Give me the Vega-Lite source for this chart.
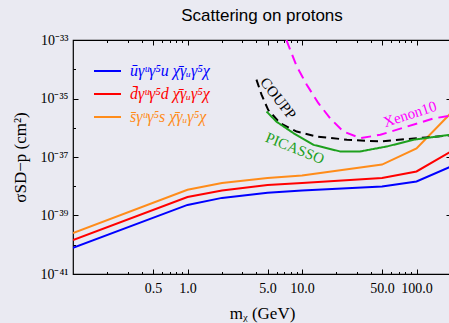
{
  "$schema": "https://vega.github.io/schema/vega-lite/v6.json",
  "width": 378,
  "height": 234,
  "autosize": {"type": "none"},
  "padding": {"left": 73, "top": 40, "right": 0, "bottom": 49},
  "background": "#EAEAF2",
  "config": {
    "view": {"stroke": "black", "strokeWidth": 1.2, "fill": "#EAEAF2"},
    "axis": {
      "grid": false, "domain": false, "tickColor": "black", "tickWidth": 1,
      "labelFont": "Liberation Serif", "labelFontSize": 14, "labelColor": "black",
      "titleFont": "Liberation Serif", "titleFontSize": 17, "titleFontWeight": "normal", "titleColor": "black",
      "labelOverlap": false, "labelFlush": false, "labelBound": false
    }
  },
  "title": {"text": "Scattering on protons", "font": "Liberation Sans", "fontSize": 17, "fontWeight": "normal", "color": "black", "offset": 8},
  "datasets": {
    "theory": [
      {"m": 0.1, "sigma": 7.9e-41, "op": "u"},
      {"m": 1, "sigma": 2.3e-39, "op": "u"},
      {"m": 2, "sigma": 4.0e-39, "op": "u"},
      {"m": 5, "sigma": 6.0e-39, "op": "u"},
      {"m": 10, "sigma": 7.1e-39, "op": "u"},
      {"m": 50, "sigma": 9.8e-39, "op": "u"},
      {"m": 100, "sigma": 1.45e-38, "op": "u"},
      {"m": 200, "sigma": 4.7e-38, "op": "u"},
      {"m": 0.1, "sigma": 1.45e-40, "op": "d"},
      {"m": 1, "sigma": 4.3e-39, "op": "d"},
      {"m": 2, "sigma": 7.1e-39, "op": "d"},
      {"m": 5, "sigma": 1.1e-38, "op": "d"},
      {"m": 10, "sigma": 1.3e-38, "op": "d"},
      {"m": 50, "sigma": 1.9e-38, "op": "d"},
      {"m": 100, "sigma": 3.2e-38, "op": "d"},
      {"m": 200, "sigma": 1.55e-37, "op": "d"},
      {"m": 0.1, "sigma": 2.5e-40, "op": "s"},
      {"m": 1, "sigma": 7.6e-39, "op": "s"},
      {"m": 2, "sigma": 1.3e-38, "op": "s"},
      {"m": 5, "sigma": 1.9e-38, "op": "s"},
      {"m": 10, "sigma": 2.35e-38, "op": "s"},
      {"m": 50, "sigma": 5.5e-38, "op": "s"},
      {"m": 100, "sigma": 1.95e-37, "op": "s"},
      {"m": 200, "sigma": 3.2e-36, "op": "s"}
    ],
    "exp": [
      {"m": 4.0, "sigma": 4.4e-35, "exp": "COUPP"},
      {"m": 4.43, "sigma": 1.35e-35, "exp": "COUPP"},
      {"m": 5.06, "sigma": 4.1e-36, "exp": "COUPP"},
      {"m": 6.41, "sigma": 1.45e-36, "exp": "COUPP"},
      {"m": 8.98, "sigma": 7.4e-37, "exp": "COUPP"},
      {"m": 13.5, "sigma": 5.0e-37, "exp": "COUPP"},
      {"m": 24.7, "sigma": 3.9e-37, "exp": "COUPP"},
      {"m": 48.3, "sigma": 3.4e-37, "exp": "COUPP"},
      {"m": 94.7, "sigma": 4.3e-37, "exp": "COUPP"},
      {"m": 200, "sigma": 5.5e-37, "exp": "COUPP"},
      {"m": 7.3, "sigma": 1.0e-33, "exp": "Xenon10"},
      {"m": 8.98, "sigma": 1.26e-34, "exp": "Xenon10"},
      {"m": 11.0, "sigma": 2.95e-35, "exp": "Xenon10"},
      {"m": 13.9, "sigma": 6.9e-36, "exp": "Xenon10"},
      {"m": 17.6, "sigma": 2.1e-36, "exp": "Xenon10"},
      {"m": 23.0, "sigma": 7.4e-37, "exp": "Xenon10"},
      {"m": 32.3, "sigma": 4.4e-37, "exp": "Xenon10"},
      {"m": 48.3, "sigma": 5.75e-37, "exp": "Xenon10"},
      {"m": 82.8, "sigma": 1.1e-36, "exp": "Xenon10"},
      {"m": 141.9, "sigma": 2.1e-36, "exp": "Xenon10"},
      {"m": 200, "sigma": 2.6e-36, "exp": "Xenon10"},
      {"m": 4.9, "sigma": 3.6e-36, "exp": "PICASSO"},
      {"m": 6.0, "sigma": 1.6e-36, "exp": "PICASSO"},
      {"m": 8.39, "sigma": 6.6e-37, "exp": "PICASSO"},
      {"m": 12.6, "sigma": 2.6e-37, "exp": "PICASSO"},
      {"m": 21.5, "sigma": 1.55e-37, "exp": "PICASSO"},
      {"m": 32.3, "sigma": 1.55e-37, "exp": "PICASSO"},
      {"m": 55.3, "sigma": 2.3e-37, "exp": "PICASSO"},
      {"m": 94.7, "sigma": 3.9e-37, "exp": "PICASSO"},
      {"m": 200, "sigma": 5.8e-37, "exp": "PICASSO"}
    ],
    "labels": [
      {"m": 6.2, "sigma": 1.02e-35, "label": "COUPP"},
      {"m": 87.4, "sigma": 2.95e-36, "label": "Xenon10"},
      {"m": 8.68, "sigma": 2.0e-37, "label": "PICASSO"}
    ]
  },
  "layer": [
    {
      "data": {"name": "theory"},
      "mark": {"type": "line", "strokeWidth": 2, "clip": true},
      "encoding": {
        "x": {
          "field": "m", "type": "quantitative",
          "scale": {"type": "log", "domain": [0.1, 200], "nice": false},
          "axis": {
            "orient": "bottom",
            "title": "mᵪ (GeV)",
            "titlePadding": 8,
            "values": [0.2, 0.3, 0.4, 0.5, 0.6, 0.7, 0.8, 0.9, 1, 2, 3, 4, 5, 6, 7, 8, 9, 10, 20, 30, 40, 50, 60, 70, 80, 90, 100, 200],
            "labelExpr": "indexof([0.5, 1, 5, 10, 50, 100], datum.value) >= 0 ? format(datum.value, '.1f') : ''",
            "tickSize": {"condition": {"test": "indexof([0.5, 1, 5, 10, 50, 100], datum.value) >= 0", "value": -5}, "value": -2.5},
            "labelPadding": 12
          }
        },
        "y": {
          "field": "sigma", "type": "quantitative",
          "scale": {"type": "log", "domain": [1e-41, 1e-33], "nice": false},
          "axis": {
            "orient": "left",
            "title": "σSD−p (cm²)",
            "titlePadding": 10,
            "values": [1e-41, 1e-40, 1e-39, 1e-38, 1e-37, 1e-36, 1e-35, 1e-34, 1e-33],
            "labelExpr": "datum.value < 5e-41 ? '10⁻⁴¹' : datum.value < 5e-40 ? '' : datum.value < 5e-39 ? '10⁻³⁹' : datum.value < 5e-38 ? '' : datum.value < 5e-37 ? '10⁻³⁷' : datum.value < 5e-36 ? '' : datum.value < 5e-35 ? '10⁻³⁵' : datum.value < 5e-34 ? '' : '10⁻³³'",
            "tickSize": {"condition": {"test": "indexof([1e-41, 1e-39, 1e-37, 1e-35, 1e-33], datum.value) >= 0", "value": -5}, "value": -2.5},
            "labelPadding": 10
          }
        },
        "color": {
          "field": "op", "type": "nominal",
          "scale": {"domain": ["u", "d", "s"], "range": ["#0000FF", "#FF0000", "#FF8C1A"]},
          "legend": {
            "orient": "none", "legendX": 20, "legendY": 16.5, "title": null,
            "symbolType": "stroke", "symbolSize": 729, "symbolStrokeWidth": 2,
            "labelFont": "Liberation Serif", "labelFontStyle": "italic", "labelFontSize": 16,
            "labelOffset": 8, "rowPadding": -3.5, "padding": 0, "labelLimit": 300,
            "labelExpr": "datum.value == 'u' ? 'ūγᵘγ⁵u χ̄γᵤγ⁵χ' : datum.value == 'd' ? 'd̄γᵘγ⁵d χ̄γᵤγ⁵χ' : 's̄γᵘγ⁵s χ̄γᵤγ⁵χ'",
            "labelColor": {"expr": "datum.value == 'u' ? '#0000FF' : datum.value == 'd' ? '#FF0000' : '#FF8C1A'"}
          }
        }
      }
    },
    {
      "data": {"name": "exp"},
      "mark": {"type": "line", "strokeWidth": 2, "clip": true},
      "encoding": {
        "x": {
          "field": "m", "type": "quantitative",
          "scale": {"type": "log", "domain": [0.1, 200], "nice": false},
          "axis": {
            "orient": "top", "title": null, "labels": false,
            "values": [0.2, 0.3, 0.4, 0.5, 0.6, 0.7, 0.8, 0.9, 1, 2, 3, 4, 5, 6, 7, 8, 9, 10, 20, 30, 40, 50, 60, 70, 80, 90, 100, 200],
            "tickSize": {"condition": {"test": "indexof([0.5, 1, 5, 10, 50, 100], datum.value) >= 0", "value": -5}, "value": -2.5}
          }
        },
        "y": {
          "field": "sigma", "type": "quantitative",
          "scale": {"type": "log", "domain": [1e-41, 1e-33], "nice": false},
          "axis": {
            "orient": "right", "title": null, "labels": false,
            "values": [1e-41, 1e-40, 1e-39, 1e-38, 1e-37, 1e-36, 1e-35, 1e-34, 1e-33],
            "tickSize": {"condition": {"test": "indexof([1e-41, 1e-39, 1e-37, 1e-35, 1e-33], datum.value) >= 0", "value": -5}, "value": -2.5}
          }
        },
        "color": {
          "field": "exp", "type": "nominal",
          "scale": {"domain": ["COUPP", "Xenon10", "PICASSO"], "range": ["#000000", "#FF00FF", "#1EA01E"]},
          "legend": null
        },
        "strokeDash": {
          "field": "exp", "type": "nominal",
          "scale": {"domain": ["COUPP", "Xenon10", "PICASSO"], "range": [[8, 5], [10, 6], [1, 0]]},
          "legend": null
        }
      }
    },
    {
      "data": {"name": "labels"},
      "transform": [{"filter": "datum.label == 'COUPP'"}],
      "mark": {"type": "text", "angle": 52, "font": "Liberation Serif", "fontSize": 15, "color": "#000000"},
      "encoding": {
        "x": {"field": "m", "type": "quantitative", "scale": {"type": "log", "domain": [0.1, 200], "nice": false}, "axis": null},
        "y": {"field": "sigma", "type": "quantitative", "scale": {"type": "log", "domain": [1e-41, 1e-33], "nice": false}, "axis": null},
        "text": {"field": "label", "type": "nominal"}
      }
    },
    {
      "data": {"name": "labels"},
      "transform": [{"filter": "datum.label == 'Xenon10'"}],
      "mark": {"type": "text", "angle": 342, "font": "Liberation Serif", "fontSize": 15, "color": "#FF00FF"},
      "encoding": {
        "x": {"field": "m", "type": "quantitative", "scale": {"type": "log", "domain": [0.1, 200], "nice": false}, "axis": null},
        "y": {"field": "sigma", "type": "quantitative", "scale": {"type": "log", "domain": [1e-41, 1e-33], "nice": false}, "axis": null},
        "text": {"field": "label", "type": "nominal"}
      }
    },
    {
      "data": {"name": "labels"},
      "transform": [{"filter": "datum.label == 'PICASSO'"}],
      "mark": {"type": "text", "angle": 22, "font": "Liberation Serif", "fontSize": 15, "color": "#1EA01E"},
      "encoding": {
        "x": {"field": "m", "type": "quantitative", "scale": {"type": "log", "domain": [0.1, 200], "nice": false}, "axis": null},
        "y": {"field": "sigma", "type": "quantitative", "scale": {"type": "log", "domain": [1e-41, 1e-33], "nice": false}, "axis": null},
        "text": {"field": "label", "type": "nominal"}
      }
    }
  ],
  "resolve": {
    "axis": {"x": "independent", "y": "independent"},
    "scale": {"color": "independent", "strokeDash": "independent"}
  }
}
